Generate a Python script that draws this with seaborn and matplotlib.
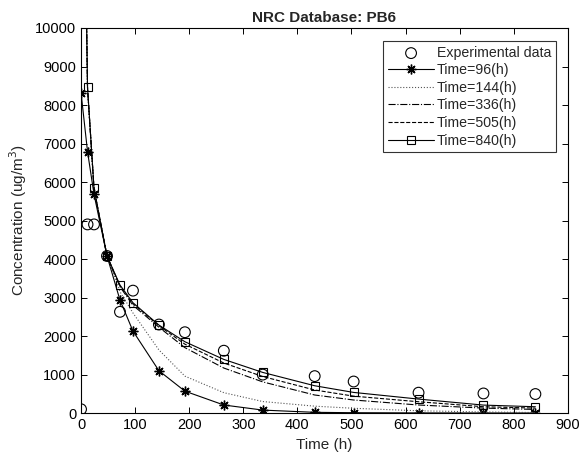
import matplotlib
matplotlib.use("Agg")
import matplotlib.pyplot as plt
import seaborn as sns
import numpy as np

sns.set_style("ticks")
plt.rcParams["font.family"] = ["Liberation Sans", "DejaVu Sans"]
plt.rcParams["font.size"] = 10.5

# sampling times (h)
t = [0, 12, 24, 48, 72, 96, 144, 192, 264, 336, 432, 504, 624, 744, 840]

exp_data = [100, 4900, 4900, 4080, 2630, 3180, 2300, 2100, 1620, 1000, 960, 820, 530, 510, 495]
sim_96 = [8320, 6790, 5680, 4080, 2935, 2130, 1100, 570, 210, 78, 20, 10, 5, 3, 2]
sim_144 = [20000, 8420, 5800, 4080, 3150, 2600, 1640, 960, 530, 300, 180, 125, 60, 30, 15]
sim_336 = [20000, 8440, 5820, 4080, 3280, 2800, 2230, 1700, 1170, 810, 470, 340, 210, 130, 95]
sim_505 = [20000, 8450, 5830, 4080, 3300, 2840, 2270, 1790, 1300, 950, 600, 440, 295, 165, 130]
sim_840 = [20000, 8455, 5835, 4080, 3325, 2866, 2286, 1853, 1394, 1056, 710, 537, 364, 208, 165]

fig, ax = plt.subplots(figsize=(5.83, 4.59), dpi=100)
fig.subplots_adjust(left=0.139, right=0.974, bottom=0.100, top=0.939)

lw = 0.8
sns.scatterplot(x=t, y=exp_data, ax=ax, marker="o", s=60, facecolor="none",
                edgecolor="black", linewidth=0.8, label="Experimental data", zorder=5)
sns.lineplot(x=t, y=sim_96, ax=ax, color="black", lw=lw, marker="*", markersize=7,
             markeredgewidth=1.0, markeredgecolor="black", label="Time=96(h)")
ax.lines[-1].set_marker((8, 2, 0))  # asterisk like MATLAB '*'
sns.lineplot(x=t, y=sim_144, ax=ax, color="#555555", lw=lw, linestyle=":", label="Time=144(h)")
sns.lineplot(x=t, y=sim_336, ax=ax, color="black", lw=lw, linestyle="-.", label="Time=336(h)")
sns.lineplot(x=t, y=sim_505, ax=ax, color="black", lw=lw, linestyle="--", label="Time=505(h)")
sns.lineplot(x=t, y=sim_840, ax=ax, color="black", lw=lw, marker="s", markersize=6,
             markerfacecolor="none", markeredgecolor="black", markeredgewidth=0.8,
             label="Time=840(h)")

ax.set_xlim(0, 900)
ax.set_ylim(0, 10000)
ax.set_xticks(range(0, 901, 100))
ax.set_yticks(range(0, 10001, 1000))
ax.tick_params(direction="in", top=True, right=True, length=4, width=0.7, colors="black")
for sp in ax.spines.values():
    sp.set_visible(True)
    sp.set_linewidth(0.8)
    sp.set_color("black")

ax.set_title("NRC Database: PB6", fontweight="bold", fontsize=11, pad=4)
ax.set_xlabel("Time (h)", fontsize=11)
ax.set_ylabel("Concentration (ug/m$^3$)", fontsize=11)

leg = ax.legend(loc="upper right", bbox_to_anchor=(0.99, 0.985), frameon=True,
                fancybox=False, edgecolor="black", handlelength=3.2, fontsize=10.2,
                borderpad=0.35, labelspacing=0.25, handletextpad=0.2)
leg.get_frame().set_linewidth(0.8)

fig.savefig("out.png", dpi=100)
